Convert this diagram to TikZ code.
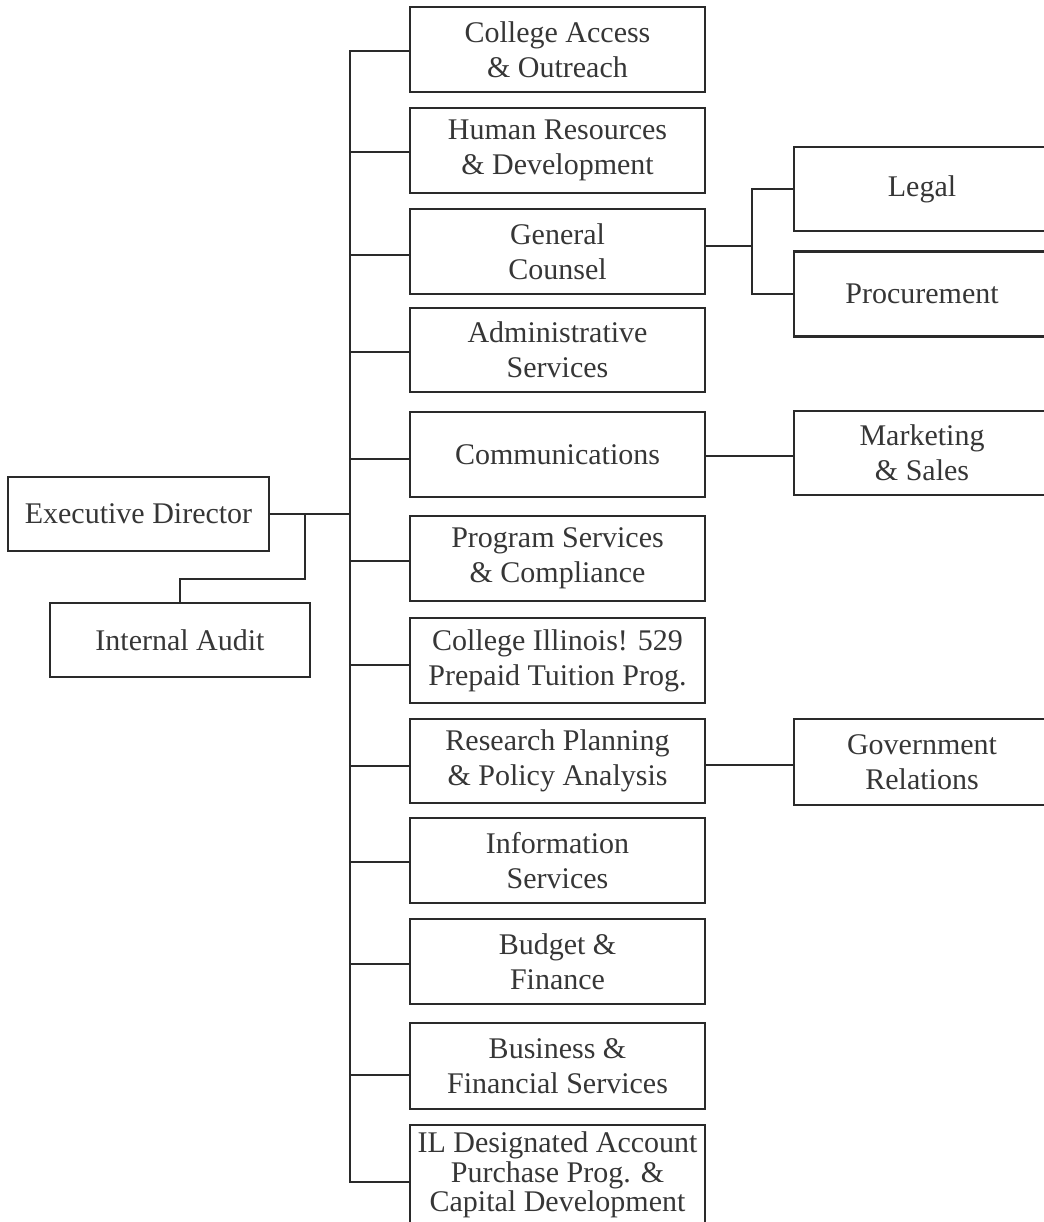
\documentclass[tikz,border=0pt]{standalone}
\usepackage{fontspec}
\setmainfont{Liberation Serif}
\definecolor{linec}{HTML}{2A2A2A}
\definecolor{textc}{HTML}{363636}
\begin{document}
\begin{tikzpicture}[x=1pt,y=-1pt,
  box/.style={draw=linec,line width=2.4pt,align=center,inner sep=0pt,outer sep=0pt,text=textc,font=\fontsize{30}{35}\selectfont},
  colbox/.style={box,minimum width=295pt,minimum height=85pt},
  sidebox/.style={box,minimum width=256pt,minimum height=85pt},
  conn/.style={draw=linec,line width=2.4pt,line join=miter}]
\useasboundingbox (0,0) rectangle (1043,1222);
\coordinate (trk) at (350,0);
\coordinate (sub) at (752,0);
% column boxes
\node[colbox] (ca)  at (557.5,49.5)  {College Access\\\& Outreach};
\node[colbox] (hr)  at (557.5,150.5) {Human Resources\\\& Development};
\node[colbox] (gc)  at (557.5,251.5) {General\\Counsel};
\node[colbox,minimum height=84pt] (as) at (557.5,350) {Administrative\\Services};
\node[colbox] (com) at (557.5,454.5) {Communications};
\node[colbox] (ps)  at (557.5,558.5) {Program Services\\\& Compliance};
\node[colbox] (ci)  at (557.5,660.5) {College Illinois! 529\\Prepaid Tuition Prog.};
\node[colbox,minimum height=84pt] (rp) at (557.5,761) {Research Planning\\\& Policy Analysis};
\node[colbox] (is)  at (557.5,860.5) {Information\\Services};
\node[colbox] (bf)  at (557.5,961.5) {Budget \&\\Finance};
\node[colbox,minimum height=86pt] (bfs) at (557.5,1066) {Business \&\\Financial Services};
\node[colbox,minimum height=100pt,font=\fontsize{30}{29.5}\selectfont] (il) at (557.5,1175) {IL Designated Account\\Purchase Prog. \&\\Capital Development};
% side boxes
\node[sidebox,minimum height=84pt] (legal) at (922,189) {Legal};
\node[sidebox] (proc) at (922,294) {Procurement};
\node[sidebox,minimum height=84pt] (mkt) at (922,453) {Marketing\\\& Sales};
\node[sidebox,minimum height=86pt] (gov) at (922,762) {Government\\Relations};
% executive
\node[box,minimum width=261pt,minimum height=74pt] (ed) at (138.5,514) {Executive Director};
\node[box,minimum width=260pt,minimum height=74pt] (ia) at (180,640) {Internal Audit};
% connector points on column boxes
\path ([yshift=-1.5pt]ca.west) coordinate (caC)
      ([yshift=-1.5pt]hr.west) coordinate (hrC)
      ([yshift=-3.5pt]gc.west) coordinate (gcC)
      ([yshift=-2pt]as.west) coordinate (asC)
      ([yshift=-4.5pt]com.west) coordinate (comC)
      ([yshift=-2.5pt]ps.west) coordinate (psC)
      ([yshift=-4.5pt]ci.west) coordinate (ciC)
      ([yshift=-5pt]rp.west) coordinate (rpC)
      ([yshift=-1.5pt]is.west) coordinate (isC)
      ([yshift=-2.5pt]bf.west) coordinate (bfC)
      ([yshift=-9pt]bfs.west) coordinate (bfsC)
      ([yshift=-7pt]il.west) coordinate (ilC);
% trunk with top and bottom branches as one path
\draw[conn] (caC) -- (caC -| trk) -- (ilC -| trk) -- (ilC);
\foreach \c in {hrC,gcC,asC,comC,psC,ciC,rpC,isC,bfC,bfsC}
  \draw[conn] (\c) -- (\c -| trk);
% executive director to trunk and internal audit
\draw[conn] (ed.east) -- (ed.east -| trk);
\coordinate (edj) at (305,514);
\coordinate (iam) at (305,579);
\draw[conn] (edj) -- (iam) -| (ia.north);
% general counsel to legal and procurement
\path ([yshift=5.5pt]gc.east) coordinate (gcR);
\draw[conn] (gcR) -- (gcR -| sub);
\draw[conn] (legal.west) -- (legal.west -| sub) -- (proc.west -| sub) -- (proc.west);
% communications to marketing
\path ([yshift=-1.5pt]com.east) coordinate (comR);
\draw[conn] (comR) -- (comR -| mkt.west);
% research to government relations
\path ([yshift=-4pt]rp.east) coordinate (rpR);
\draw[conn] (rpR) -- (rpR -| gov.west);
\end{tikzpicture}
\end{document}
